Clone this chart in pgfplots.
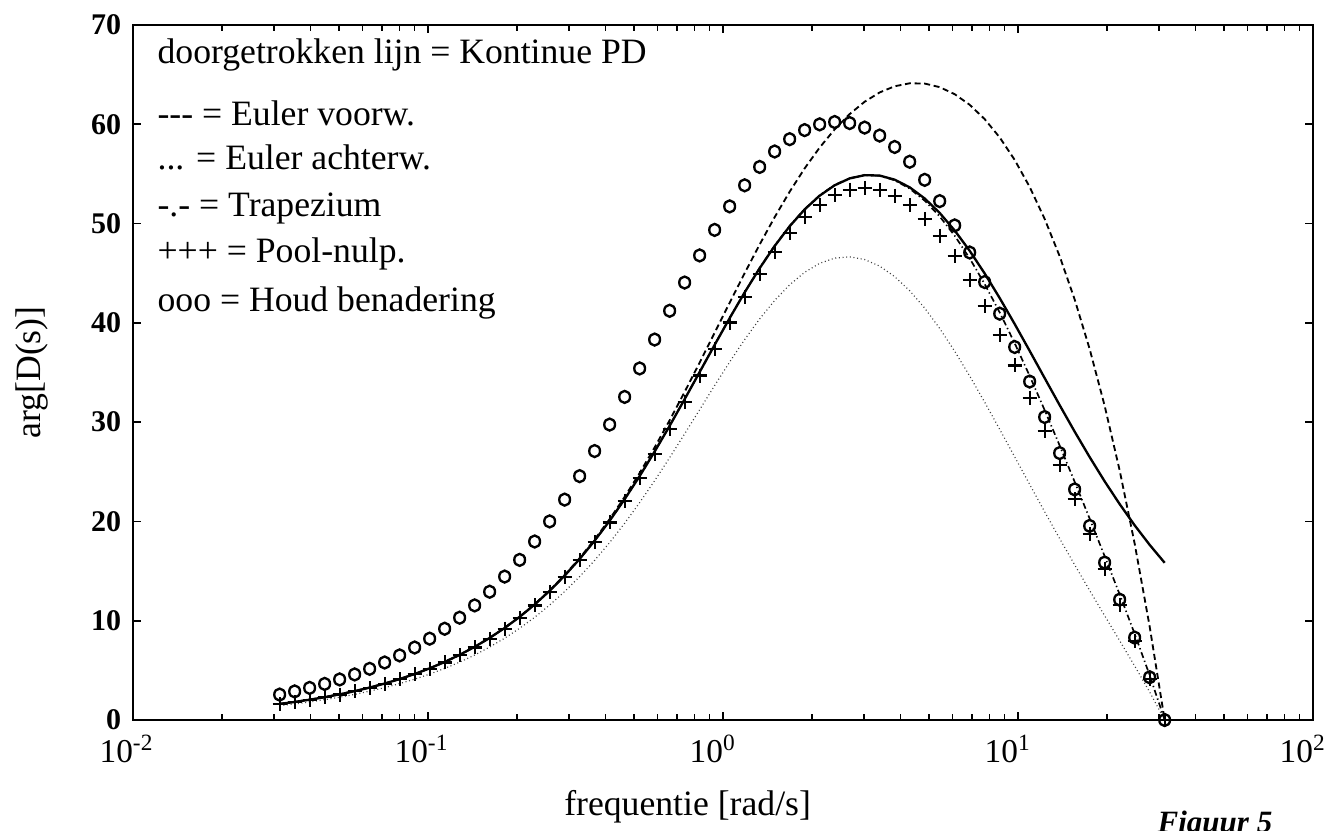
\documentclass[border=0pt]{standalone}
\usepackage{fontspec}
\setmainfont{Liberation Serif}
\usepackage{pgfplots}
\usepackage{pgfplotstable}
\pgfplotsset{compat=1.18}
\pgfplotstableread{
w C F B T P H
0.031416 1.620 1.620 1.440 1.620 1.606 2.561
0.035318 1.820 1.820 1.618 1.820 1.806 2.878
0.039705 2.046 2.046 1.819 2.046 2.030 3.235
0.044637 2.300 2.300 2.044 2.300 2.281 3.635
0.050181 2.585 2.585 2.297 2.585 2.564 4.085
0.056414 2.906 2.906 2.583 2.906 2.882 4.590
0.063421 3.266 3.266 2.903 3.266 3.239 5.156
0.071298 3.670 3.670 3.261 3.670 3.640 5.792
0.080154 4.124 4.124 3.665 4.124 4.090 6.504
0.090110 4.633 4.633 4.117 4.633 4.595 7.301
0.10130 5.204 5.204 4.624 5.204 5.161 8.194
0.11388 5.844 5.844 5.192 5.844 5.796 9.191
0.12803 6.562 6.562 5.828 6.562 6.508 10.304
0.14393 7.366 7.366 6.541 7.366 7.305 11.543
0.16181 8.264 8.275 7.348 8.264 8.196 12.920
0.18191 9.268 9.284 8.242 9.268 9.191 14.445
0.20450 10.386 10.409 9.237 10.386 10.300 16.128
0.22990 11.630 11.662 10.345 11.630 11.533 17.978
0.25846 13.011 13.056 11.576 13.011 12.902 20.001
0.29056 14.538 14.600 12.937 14.538 14.415 22.196
0.32664 16.218 16.305 14.436 16.218 16.080 24.561
0.36721 18.061 18.182 16.080 18.061 17.906 27.088
0.41282 20.068 20.234 17.873 20.068 19.894 29.756
0.46410 22.239 22.467 19.814 22.239 22.043 32.542
0.52174 24.566 24.876 21.895 24.566 24.346 35.410
0.58655 27.037 27.455 24.105 27.040 26.789 38.318
0.65940 29.628 30.185 26.423 29.634 29.350 41.218
0.74131 32.311 33.044 28.820 32.321 31.997 44.060
0.83338 35.043 35.998 31.256 35.056 34.691 46.791
0.93689 37.781 39.007 33.686 37.798 37.386 49.362
1.0534 40.475 42.028 36.060 40.495 40.031 51.730
1.1842 43.067 45.007 38.315 43.092 42.567 53.854
1.3313 45.504 47.894 40.398 45.534 44.943 55.705
1.4966 47.740 50.642 42.254 47.774 47.107 57.260
1.6825 49.726 53.209 43.833 49.763 49.014 58.500
1.8915 51.424 55.558 45.091 51.464 50.626 59.414
2.1264 52.810 57.658 45.996 52.849 51.911 59.992
2.3906 53.856 59.487 46.521 53.891 52.846 60.228
2.6875 54.547 61.029 46.652 54.573 53.412 60.121
3.0213 54.876 62.272 46.382 54.884 53.599 59.667
3.3974 54.835 63.209 45.712 54.815 53.398 58.863
3.8194 54.424 63.829 44.658 54.360 52.809 57.716
4.2938 53.652 64.129 43.239 53.523 51.835 56.227
4.8271 52.529 64.102 41.487 52.307 50.485 54.405
5.4267 51.072 63.741 39.439 50.720 48.772 52.261
6.1007 49.305 63.033 37.143 48.777 46.716 49.814
6.8585 47.260 61.966 34.648 46.499 44.345 47.087
7.7103 44.977 60.523 32.010 43.912 41.693 44.113
8.6680 42.500 58.679 29.278 41.049 38.800 40.927
9.7446 39.882 56.411 26.503 37.949 35.708 37.570
10.953 37.180 53.691 23.728 34.660 32.470 34.090
12.313 34.439 50.471 20.976 31.211 29.116 30.515
13.842 31.713 46.712 18.274 27.647 25.691 26.885
15.562 29.048 42.362 15.631 23.997 22.221 23.226
17.495 26.481 37.364 13.046 20.282 18.723 19.552
19.668 24.040 31.650 10.507 16.506 15.197 15.857
22.110 21.747 25.145 7.987 12.653 11.625 12.123
24.857 19.611 17.765 5.444 8.680 7.962 8.300
27.944 17.641 9.418 2.817 4.509 4.131 4.305
31.416 15.834 0 0 0 0 0
}\data

\newcommand{\tl}[1]{\makebox[0pt][r]{10}\makebox[0pt][l]{\textsuperscript{#1}}}

\begin{document}
\begin{tikzpicture}
\useasboundingbox (-39.9pt,-33pt) rectangle (358.5pt,216pt);
\begin{axis}[
  scale only axis,
  width=354pt, height=208.5pt,
  xmode=log, xmin=0.01, xmax=100, ymin=0, ymax=70,
  clip=false,
  axis line style={line width=0.6pt},
  tick align=inside,
  major tick length=2.4pt, minor tick length=1.8pt,
  tick style={line width=0.5pt, black},
  xtick={0.01,0.1,1,10,100},
  xticklabels={\tl{-2},\tl{-1},\tl{0},\tl{1},\tl{2}},
  minor xtick={0.02,0.03,0.04,0.05,0.06,0.07,0.08,0.09,0.2,0.3,0.4,0.5,0.6,0.7,0.8,0.9,2,3,4,5,6,7,8,9,20,30,40,50,60,70,80,90},
  ytick={0,10,20,30,40,50,60,70},
  /pgf/number format/assume math mode=true,
  xticklabel style={font=\fontsize{10}{11}\selectfont, yshift=-1pt},
  yticklabel style={font=\bfseries\fontsize{9}{11}\selectfont},
]
\addplot[black, line width=0.7pt] table[x=w,y=C] {\data};
\addplot[black, line width=0.55pt, dash pattern=on 1.8pt off 1.1pt] table[x=w,y=F] {\data};
\addplot[black!75, line width=0.35pt, dash pattern=on 0.3pt off 0.8pt] table[x=w,y=B] {\data};
\addplot[black, line width=0.5pt, dash pattern=on 1.8pt off 0.9pt on 0.4pt off 0.9pt] table[x=w,y=T] {\data};
\addplot[only marks, mark=+, mark size=2.1pt, mark options={line width=0.65pt, black}] table[x=w,y=P] {\data};
\addplot[only marks, mark=o, mark size=1.8pt, mark options={line width=0.7pt, black, xscale=0.9}] table[x=w,y=H] {\data};

\begin{scope}[every node/.style={anchor=base west, inner sep=0pt, font=\fontsize{10.7}{12}\selectfont}]
\node at (rel axis cs:0.0203,0.944) {doorgetrokken lijn = Kontinue PD};
\node at (rel axis cs:0.0203,0.855) {-{}-{}- = Euler voorw.};
\node at (rel axis cs:0.0203,0.792) {... = Euler achterw.};
\node at (rel axis cs:0.0203,0.724) {-.- = Trapezium};
\node at (rel axis cs:0.0203,0.658) {+++ = Pool-nulp.};
\node at (rel axis cs:0.0203,0.588) {ooo = Houd benadering};
\end{scope}
\node[rotate=90, anchor=center, font=\fontsize{10.7}{12}\selectfont] at ([xshift=-30.3pt]rel axis cs:0,0.5) {arg[D(s)]};
\node[anchor=base, font=\fontsize{10.7}{12}\selectfont] at ([yshift=-28.5pt]rel axis cs:0.47,0) {frequentie [rad/s]};
\node[anchor=base west, inner sep=0pt, font=\bfseries\itshape\fontsize{9.3}{11}\selectfont] at ([xshift=307.2pt, yshift=-33.6pt]rel axis cs:0,0) {Figuur 5};
\end{axis}
\end{tikzpicture}
\end{document}
